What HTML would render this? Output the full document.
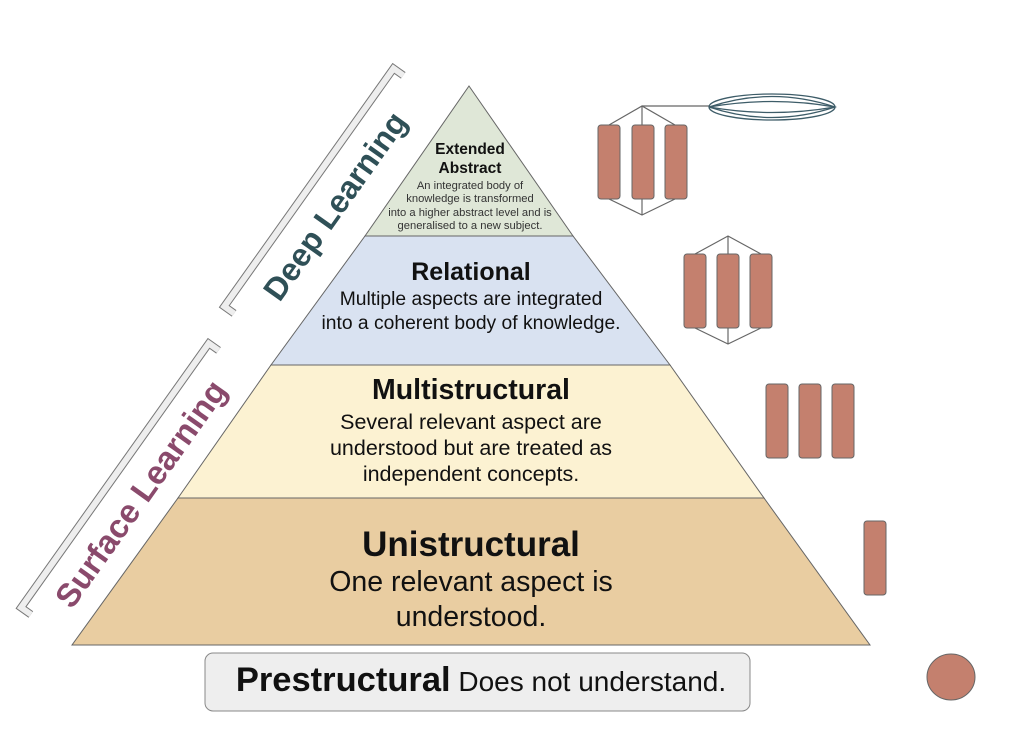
<!DOCTYPE html>
<html><head><meta charset="utf-8"><style>body{margin:0;background:#fff}svg{display:block}</style></head><body>
<svg width="1024" height="729" viewBox="0 0 1024 729" xmlns="http://www.w3.org/2000/svg" font-family="Liberation Sans, Arial, sans-serif">
<g stroke="#666" stroke-width="1">
<polygon points="469,86 573,236 365,236" fill="#dfe7d7"/>
<polygon points="365,236 573,236 670,365 271,365" fill="#d9e2f1"/>
<polygon points="271,365 670,365 764,498 178,498" fill="#fcf2d2"/>
<polygon points="178,498 764,498 870,645 72,645" fill="#e9cda1"/>
</g>
<rect x="205" y="653" width="545" height="58" rx="8" fill="#eeeeee" stroke="#888"/>
<g text-anchor="middle" fill="#111">
<text x="470" y="154" font-size="15.5" font-weight="bold">Extended</text>
<text x="470" y="173" font-size="15.5" font-weight="bold">Abstract</text>
<g font-size="11.2" fill="#333"><text x="470" y="189">An integrated body of</text><text x="470" y="202">knowledge is transformed</text><text x="470" y="216">into a higher abstract level and is</text><text x="470" y="229">generalised to a new subject.</text></g>
<text x="471" y="280" font-size="25" font-weight="bold">Relational</text>
<text x="471" y="305" font-size="19.3">Multiple aspects are integrated</text>
<text x="471" y="329" font-size="19.3">into a coherent body of knowledge.</text>
<text x="471" y="399" font-size="28.5" font-weight="bold">Multistructural</text>
<text x="471" y="429" font-size="21.5">Several relevant aspect are</text>
<text x="471" y="455" font-size="21.5">understood but are treated as</text>
<text x="471" y="481" font-size="21.5">independent concepts.</text>
<text x="471" y="556" font-size="35" font-weight="bold">Unistructural</text>
<text x="471" y="591" font-size="28.5">One relevant aspect is</text>
<text x="471" y="626" font-size="28.5">understood.</text>
<text x="481" y="691"><tspan font-size="34.5" font-weight="bold">Prestructural</tspan><tspan font-size="28"> Does not understand.</tspan></text>
</g>
<g transform="translate(335,206) rotate(-54.6)">
<path d="M-146,-20 L-146,-32 L146,-32 L146,-20" fill="none" stroke="#777" stroke-width="8"/>
<path d="M-146,-20 L-146,-32 L146,-32 L146,-20" fill="none" stroke="#eee" stroke-width="6"/>
<text x="0" y="0" text-anchor="middle" font-size="32" font-weight="bold" fill="#2f5057" dy="11">Deep Learning</text>
</g>
<g transform="translate(141,494) rotate(-54.6)">
<path d="M-162,-20 L-162,-32 L162,-32 L162,-20" fill="none" stroke="#777" stroke-width="8"/>
<path d="M-162,-20 L-162,-32 L162,-32 L162,-20" fill="none" stroke="#eee" stroke-width="6"/>
<text x="0" y="0" text-anchor="middle" font-size="33" font-weight="bold" fill="#8a4a6c" dy="11">Surface Learning</text>
</g>
<g stroke="#666" stroke-width="1.2" fill="none">
<polyline points="609,125 642,106 675,125"/><line x1="642" y1="106" x2="642" y2="125"/>
<polyline points="609,199 642,215 675,199"/><line x1="642" y1="199" x2="642" y2="215"/>
<line x1="642" y1="106" x2="709" y2="106"/>
<polyline points="695,254 728,236 761,254"/><line x1="728" y1="236" x2="728" y2="254"/>
<polyline points="695,328 728,344 761,328"/><line x1="728" y1="328" x2="728" y2="344"/>
</g>
<g stroke="#3d5c68" stroke-width="1.3" fill="none">
<ellipse cx="772" cy="107" rx="63" ry="13"/>
<path d="M709,107 Q772,86 835,107 Q772,128 709,107"/>
<path d="M709,107 Q772,96 835,107 Q772,118 709,107"/>
</g>
<g fill="#c4806e" stroke="#666" stroke-width="1">
<rect x="598" y="125" width="22" height="74" rx="3"/><rect x="632" y="125" width="22" height="74" rx="3"/><rect x="665" y="125" width="22" height="74" rx="3"/>
<rect x="684" y="254" width="22" height="74" rx="3"/><rect x="717" y="254" width="22" height="74" rx="3"/><rect x="750" y="254" width="22" height="74" rx="3"/>
<rect x="766" y="384" width="22" height="74" rx="3"/><rect x="799" y="384" width="22" height="74" rx="3"/><rect x="832" y="384" width="22" height="74" rx="3"/>
<rect x="864" y="521" width="22" height="74" rx="3"/>
<ellipse cx="951" cy="677" rx="24" ry="23"/>
</g>
</svg>
</body></html>
